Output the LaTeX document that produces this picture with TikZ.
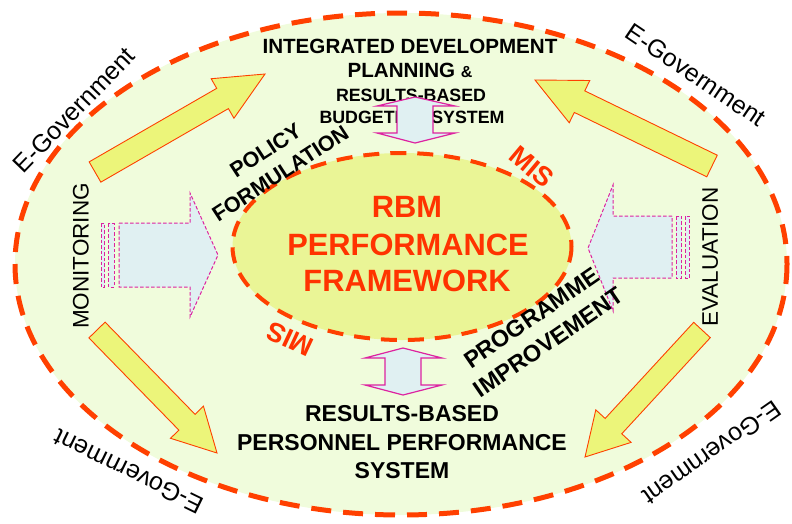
\documentclass[tikz,border=0pt]{standalone}
\usepackage{fontspec}
\setmainfont{Liberation Sans}
\usetikzlibrary{calc}
\definecolor{bgouter}{RGB}{240,252,220}
\definecolor{bginner}{RGB}{234,245,150}
\definecolor{dashred}{RGB}{255,64,0}
\definecolor{yarrow}{RGB}{236,245,122}
\definecolor{barrow}{RGB}{224,240,242}
\definecolor{magent}{RGB}{221,34,160}
\definecolor{redtxt}{RGB}{255,51,0}
\tikzset{
  outerell/.style={fill=bgouter, draw=dashred, line width=5pt, dash pattern=on 20pt off 12pt},
  innerell/.style={fill=bginner, draw=dashred, line width=4pt, dash pattern=on 16pt off 11pt},
  yarr/.style={fill=yarrow, draw=dashred, line width=0.9pt, line join=miter},
  barr/.style={fill=barrow, draw=magent, line width=1pt, dash pattern=on 3.5pt off 2pt},
  darr/.style={fill=barrow, draw=magent, line width=1.2pt},
  egov/.style={font=\fontsize{25}{28}\selectfont, inner sep=0pt},
  side/.style={font=\fontsize{22.5}{26}\selectfont, inner sep=0pt},
  toptxt/.style={font=\bfseries\fontsize{20.6}{24}\selectfont, inner sep=0pt},
  toptxtb/.style={font=\bfseries\fontsize{17.8}{20}\selectfont, inner sep=0pt},
  bottxt/.style={font=\bfseries\fontsize{23}{28}\selectfont, inner sep=0pt},
  rbm/.style={font=\bfseries\fontsize{30.8}{36}\selectfont, text=redtxt, inner sep=0pt},
  mis/.style={font=\bfseries\fontsize{27}{30}\selectfont, text=redtxt, inner sep=0pt},
  slanta/.style={font=\bfseries\fontsize{21.5}{27}\selectfont, align=center, inner sep=0pt},
  slantb/.style={font=\bfseries\fontsize{23.5}{30}\selectfont, align=center, inner sep=0pt},
}
% #1 name, #2 tail, #3 tip, #4 shaft half width, #5 head half width, #6 head length
\newcommand\yellowarrow[6]{%
  \coordinate (#1-b) at ($(#3)!#6!(#2)$);
  \draw[yarr] ($(#2)!#4!90:(#3)$) -- ($(#1-b)!#4!-90:(#2)$) -- ($(#1-b)!#5!-90:(#2)$)
    -- (#3) -- ($(#1-b)!#5!90:(#2)$) -- ($(#1-b)!#4!90:(#2)$) -- ($(#2)!#4!-90:(#3)$) -- cycle;
}
\begin{document}
\begin{tikzpicture}[x=1pt,y=-1pt]
\useasboundingbox (0,0) rectangle (792,523);
% ellipses
\path[outerell] (401,264) ellipse [x radius=386, y radius=251];
\path[innerell] (402,246.5) ellipse [x radius=169.5, y radius=93.5];

% yellow arrows
\coordinate (tlT) at (95,172);  \coordinate (tlH) at (265,74);
\coordinate (trT) at (712,166); \coordinate (trH) at (535,80);
\coordinate (blT) at (97,330);  \coordinate (blH) at (217,453);
\coordinate (brT) at (702,330); \coordinate (brH) at (585,457);
\yellowarrow{tl}{tlT}{tlH}{11.7pt}{22.8pt}{49pt}
\yellowarrow{tr}{trT}{trH}{12pt}{23.5pt}{49.5pt}
\yellowarrow{bl}{blT}{blH}{11.3pt}{23pt}{43pt}
\yellowarrow{br}{brT}{brH}{11.3pt}{24pt}{42pt}

% striped dashed arrows
\draw[barr] (101,223) rectangle (104.5,287);
\draw[barr] (108.5,223) rectangle (114,287);
\draw[barr] (119,223) -- (190,223) -- (190,193) -- (218,255) -- (190,317) -- (190,287) -- (119,287) -- cycle;
\draw[barr] (672,216) -- (613,216) -- (613,185) -- (588,248) -- (613,311) -- (613,278) -- (672,278) -- cycle;
\draw[barr] (676,216) rectangle (681.5,278);
\draw[barr] (685.5,216) rectangle (689,278);

% top text
\node[toptxt] (t1) at (410,46.5) {INTEGRATED DEVELOPMENT};
\node[toptxt] (t2) at (410,70) {PLANNING {\fontsize{16}{18}\selectfont\&}};
\node[toptxtb] (t3) at (411,95) {RESULTS-BASED};
\node[toptxtb] (t4) at (412,117) {BUDGETING SYSTEM};

% double arrows
\draw[darr] (415,97) -- (455,106) -- (433,106) -- (433,133) -- (455,133) -- (415,143)
  -- (377,133) -- (397,133) -- (397,106) -- (377,106) -- cycle;
\draw[darr] (403,348) -- (442,358) -- (421,358) -- (421,385) -- (442,385) -- (403,395)
  -- (365,385) -- (385,385) -- (385,358) -- (365,358) -- cycle;

% bottom text
\node[bottxt] (b1) at (402,414) {RESULTS-BASED};
\node[bottxt] (b2) at (402,443) {PERSONNEL PERFORMANCE};
\node[bottxt] (b3) at (402,471) {SYSTEM};

% centre text
\node[rbm] (r1) at (407,207) {RBM};
\node[rbm] (r2) at (408,245) {PERFORMANCE};
\node[rbm] (r3) at (407,281) {FRAMEWORK};
\node[mis, rotate=-40] (mis1) at (532,167) {MIS};
\node[mis, rotate=155] (mis2) at (290,339) {MIS};

% slanted labels
\node[slanta, rotate=33] (pol) at (273,162) {POLICY\\FORMULATION};
\node[slantb, rotate=34.5] (prog) at (540,330) {PROGRAMME\\IMPROVEMENT};

% side labels
\node[side, rotate=90] (mon) at (81,256) {MONITORING};
\node[side, rotate=90] (eva) at (710,257) {EVALUATION};

% E-Government labels
\node[egov, rotate=46] (eg1) at (74,110) {E-Government};
\node[egov, rotate=-34] (eg2) at (696,75) {E-Government};
\node[egov, rotate=154] (eg3) at (129,472) {E-Government};
\node[egov, rotate=215] (eg4) at (712,453) {E-Government};
\end{tikzpicture}
\end{document}
